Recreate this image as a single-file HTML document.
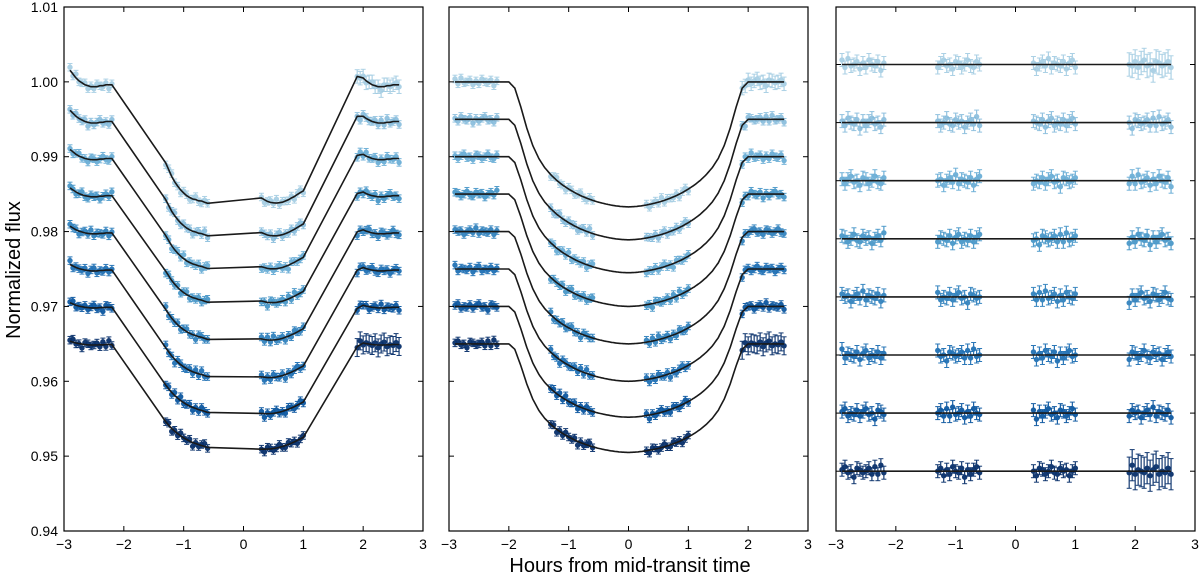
<!DOCTYPE html>
<html><head><meta charset="utf-8">
<style>
html,body{margin:0;padding:0;background:#fff;}
svg{display:block;font-family:"Liberation Sans","DejaVu Sans",sans-serif;}
</style></head>
<body>
<svg id="chart" width="1200" height="575" viewBox="0 0 1200 575" xmlns="http://www.w3.org/2000/svg">
<text x="0" y="0" transform="translate(20,270) rotate(-90)" text-anchor="middle" font-size="20" fill="#000">Normalized flux</text>
<text x="630" y="572" text-anchor="middle" font-size="20" fill="#000">Hours from mid-transit time</text>
</svg>
<script>
// ---- data ----
const xTicks = [-3,-2,-1,0,1,2,3];
const xTickLabels = ["\u22123","\u22122","\u22121","0","1","2","3"];
const yTicks = [1.01,1.00,0.99,0.98,0.97,0.96,0.95,0.94];
const yTickLabels = ["1.01","1.00","0.99","0.98","0.97","0.96","0.95","0.94"];
const baselines = [1.000,0.995,0.990,0.985,0.980,0.975,0.970,0.965];
const depths = [0.0167,0.0161,0.0155,0.0150,0.0150,0.0150,0.0148,0.0145];
// transit depth fraction at |x| = 0,0.1,...,2.0 hours
const transitShape = [1.0,0.998,0.993,0.985,0.975,0.963,0.948,0.930,0.910,0.886,0.858,0.826,0.788,0.742,0.686,0.612,0.51,0.37,0.2,0.05,0];
const orbitStarts = [-2.9,-1.3,0.3,1.9];
// systematic ramp within an orbit (1e-4 units), 15 exposures
const rampShape = [12,8,4,1,-1,-3,-4,-5,-5,-5,-4,-4,-3,-3,-3];
const rampAmp = [1.3,1.0,0.8,0.7,0.6,0.5,0.4,0.3];
// residuals (1e-4 units)
const residuals = [3,-2,4,-1,0,2,-3,1,-2,3,0,-1,2,-4,1,-2,1,3,-1,0,-3,2,1,-2,0,3,-1,-2,2,0,1,-3,0,2,-1,4,-2,1,0,-1,2,-3,1,3,-2,0,-1,2,-2,1,3,-1,0,-4,2,1,-1,0,2,-2];
const errBase = [5,5,5,5,5,5,5,5];
const lastOrbitErrScale = [1.8,1,1,1,1,1,1,2.4];
const colors = ["#9ecae1","#7fb8da","#6baed6","#4a98c9","#3383be","#2171b5","#0d58a1","#08306b"];
const resLines = [0,-1,-2,-3,-4,-5,-6,-7];

// ---- layout ----
const svg = document.getElementById('chart');
const NS = 'http://www.w3.org/2000/svg';
const top_ = 7, bottom = 531;
const panels = [{l:64,r:423,name:'panel-systematics'},{l:449,r:808,name:'panel-transit-model'},{l:836,r:1195,name:'panel-residuals'}];
function sx(p,x){return p.l + (x+3)/6*(p.r-p.l);}
function sy(v){return top_ + (1.01 - v)/0.07*(bottom-top_);}
function sy3(v){return 64.5 + (-v)*58.1;}
function el(tag,attrs,parent){const e=document.createElementNS(NS,tag);for(const k in attrs)e.setAttribute(k,attrs[k]);(parent||svg).appendChild(e);return e;}

function shapeAt(x){const a=Math.abs(x)*10;const i=Math.floor(a);if(i>=transitShape.length-1)return 0;const t=a-i;return transitShape[i]*(1-t)+transitShape[i+1]*t;}
function model2(s,x){return baselines[s]-depths[s]*shapeAt(x);}
function model1(s,o,j){return model2(s,orbitStarts[o]+0.05*j)+rampShape[j]*rampAmp[s]*1e-4*(o===2?0.6:1);}

panels.forEach((p,pi)=>{
  const g = el('g',{});
  
  
  for(let s=0;s<8;s++){
    const sg = el('g',{},g);
    
    
    for(let o=0;o<4;o++){
      for(let j=0;j<15;j++){
        const x = orbitStarts[o]+0.05*j;
        const r = residuals[(s*7+o*15+j)%residuals.length];
        const e = errBase[s]*(o===3?lastOrbitErrScale[s]:1);
        let cy, ey;
        if(pi===0){cy=sy(model1(s,o,j)+r*1.3e-4);ey=e*1e-4*(bottom-top_)/0.07;}
        else if(pi===1){cy=sy(model2(s,x)+r*1.3e-4);ey=e*1e-4*(bottom-top_)/0.07;}
        else {cy=sy3(resLines[s])-r*1.5;ey=e*1.3;}
        const cx = sx(p,x);
        const pt = el('g',{opacity: s<2?0.85:0.95},sg);
        
        
        el('line',{x1:cx,x2:cx,y1:cy-ey,y2:cy+ey,stroke:colors[s],'stroke-width':1.2},pt);
        el('line',{x1:cx-2.5,x2:cx+2.5,y1:cy-ey,y2:cy-ey,stroke:colors[s],'stroke-width':1},pt);
        el('line',{x1:cx-2.5,x2:cx+2.5,y1:cy+ey,y2:cy+ey,stroke:colors[s],'stroke-width':1},pt);
        el('circle',{cx:cx,cy:cy,r:2.7,fill:colors[s]},pt);
      }
    }
  }
  for(let s=0;s<8;s++){
    let pts=[];
    if(pi===0){for(let o=0;o<4;o++)for(let j=0;j<15;j++)pts.push([sx(p,orbitStarts[o]+0.05*j),sy(model1(s,o,j))]);}
    else if(pi===1){for(let x=-2.9;x<=2.601;x+=0.02)pts.push([sx(p,x),sy(model2(s,x))]);}
    else {pts=[[sx(p,-2.9),sy3(resLines[s])],[sx(p,2.6),sy3(resLines[s])]];}
    const pl = el('polyline',{points:pts.map(a=>a[0].toFixed(1)+','+a[1].toFixed(1)).join(' '),fill:'none',stroke:'#1a1a1a','stroke-width':1.6},g);
    
    
  }
  const fr = el('rect',{x:p.l,y:top_,width:p.r-p.l,height:bottom-top_,fill:'none',stroke:'#000','stroke-width':1.2},g);
  
  
  xTicks.forEach((t,i)=>{
    const x=sx(p,t);
    el('line',{x1:x,x2:x,y1:bottom,y2:bottom-5,stroke:'#000','stroke-width':1},g);
    el('line',{x1:x,x2:x,y1:top_,y2:top_+5,stroke:'#000','stroke-width':1},g);
    const tl = el('text',{x:x,y:bottom+18,'text-anchor':'middle','font-size':14,fill:'#000'},g);
    tl.textContent = xTickLabels[i];
    
    
  });
  if(pi<2){
    yTicks.forEach((t,i)=>{
      const y=sy(t);
      el('line',{x1:p.l,x2:p.l+5,y1:y,y2:y,stroke:'#000','stroke-width':1},g);
      el('line',{x1:p.r,x2:p.r-5,y1:y,y2:y,stroke:'#000','stroke-width':1},g);
      if(pi===0){
        const yl = el('text',{x:p.l-6,y:y+5,'text-anchor':'end','font-size':14,fill:'#000'},g);
        yl.textContent = yTickLabels[i];
        
        
      }
    });
  } else {
    resLines.forEach(v=>{
      const y=sy3(v);
      el('line',{x1:p.l,x2:p.l+5,y1:y,y2:y,stroke:'#000','stroke-width':1},g);
      el('line',{x1:p.r,x2:p.r-5,y1:y,y2:y,stroke:'#000','stroke-width':1},g);
    });
  }
});
</script>
</body></html>
